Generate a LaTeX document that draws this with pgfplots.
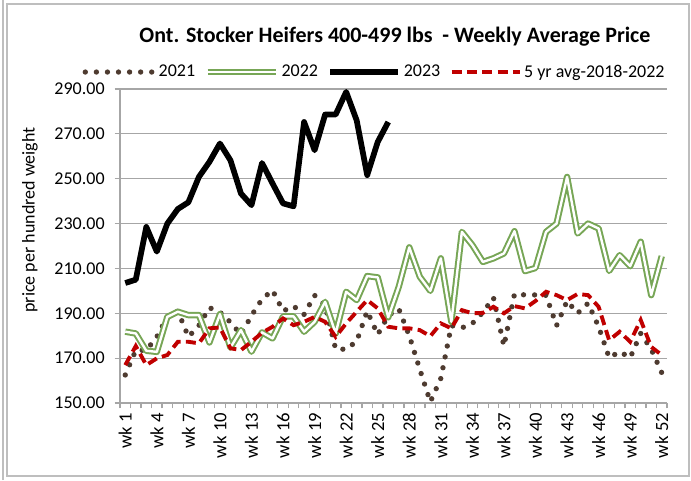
\documentclass[border=0pt]{standalone}
\usepackage{fontspec}
\setmainfont{Carlito}
\usepackage{pgfplots}
\pgfplotsset{compat=1.18}
\definecolor{c21}{RGB}{78,59,48}
\definecolor{c22}{RGB}{119,166,86}
\definecolor{c5y}{RGB}{192,0,0}
\definecolor{gridg}{RGB}{166,166,166}
\definecolor{frameg}{RGB}{190,190,190}
\begin{document}
\begin{tikzpicture}[x=1pt,y=1pt]
\begin{axis}[
  at={(0,0)}, anchor=south west,
  scale only axis, width=410.25pt, height=235.5pt,
  xmin=0.5, xmax=52.5, ymin=150, ymax=290,
  clip=false,
  axis x line=bottom, axis y line=left,
  axis line style={-, draw=gridg, line width=0.9pt},
  ytick={150,170,...,290},
  xtick={1,4,7,10,13,16,19,22,25,28,31,34,37,40,43,46,49,52},
  xticklabels={wk 1,wk 4,wk 7,wk 10,wk 13,wk 16,wk 19,wk 22,wk 25,wk 28,wk 31,wk 34,wk 37,wk 40,wk 43,wk 46,wk 49,wk 52},
  minor xtick={0.5,1.5,...,52.5},
  major x tick style={draw=none},
  tick align=outside,
  tick style={draw=gridg, line width=0.9pt},
  major tick length=4pt, minor tick length=4pt,
  ymajorgrids, major grid style={draw=gridg, line width=0.9pt},
  tick label style={font=\fontsize{13.5}{15}\selectfont},
  xticklabel style={rotate=90, anchor=east, font=\fontsize{14}{16}\selectfont},
  yticklabel style={xshift=-4pt, /pgf/number format/.cd, fixed, fixed zerofill, precision=2, 1000 sep={}, assume math mode=true},
  ylabel={price per hundred weight},
  ylabel style={at={(axis description cs:-0.1645,0.583)}, anchor=center, font=\fontsize{13.5}{15}\selectfont},
  legend columns=4,
  legend style={at={(axis description cs:0.466,1.054)}, anchor=center, draw=none, fill=none,
    font=\fontsize{13.5}{15}\selectfont,
    /tikz/every even column/.append style={column sep=5pt}},
  legend image code/.code={\draw[#1] (0pt,0pt) -- (51pt,0pt);},
]
% 2021
\addplot[c21, line width=4pt, line cap=round, dash pattern=on 0pt off 8.3pt] coordinates {
(1,162.5)(2,173.5)(3,173.5)(4,179.5)(5,188.5)(6,191)(7,179.5)(8,184.5)(9,192.5)(10,190.5)
(11,186)(12,180.5)(13,189)(14,196.3)(15,200.3)(16,191)(17,193.2)(18,189.5)(19,198)(20,193.5)
(21,174)(22,174)(23,177.5)(24,191)(25,180.5)(26,189)(27,192)(28,180)(29,165)(30,150.5)
(31,161)(32,184.5)(33,183.5)(34,185.5)(35,190.4)(36,197)(37,175.4)(38,198.6)(39,198.2)(40,198.2)
(41,198)(42,184.5)(43,195.5)(44,190)(45,194.5)(46,184)(47,170.2)(48,172.9)(49,170.2)(50,181)
(51,174)(52,163.5)};
\addlegendentry{2021}
% 2022
\addplot[c22, line width=1.5pt, double=white, double distance=1.8pt, line join=round] coordinates {
(1,181.8)(2,181)(3,173.3)(4,172.8)(5,188.4)(6,190.7)(7,189.2)(8,189.2)(9,177)(10,189.6)
(11,174.7)(12,182.5)(13,172.9)(14,181.5)(15,178.8)(16,188.6)(17,188.6)(18,181.8)(19,186.2)(20,195.1)
(21,181)(22,199.6)(23,195.9)(24,206.6)(25,206)(26,188.2)(27,201.8)(28,219.4)(29,206.3)(30,200)
(31,214.5)(32,186.2)(33,226.3)(34,220.4)(35,212.9)(36,214.5)(37,216.7)(38,226.6)(39,208.8)(40,210.2)
(41,226.3)(42,230)(43,250.8)(44,225.6)(45,230)(46,227.8)(47,208.9)(48,215.9)(49,211)(50,221.9)
(51,198.1)(52,215.5)};
\addlegendentry{2022}
% 2023
\addplot[black, line width=4.3pt, line join=round] coordinates {
(1,203.5)(2,205)(3,228.5)(4,217.5)(5,230)(6,236.5)(7,239.5)(8,250.8)(9,257.5)(10,265.7)
(11,258.2)(12,243.4)(13,238.2)(14,257)(15,247.9)(16,239)(17,237.7)(18,275.3)(19,262.7)(20,278.6)
(21,278.6)(22,288.7)(23,276)(24,251.6)(25,266.4)(26,275.3)};
\addlegendentry{2023}
% 5 yr avg
\addplot[c5y, line width=2.9pt, dash pattern=on 7.5pt off 4pt] coordinates {
(1,166.9)(2,175.4)(3,166.9)(4,169.9)(5,171.4)(6,177.3)(7,177.3)(8,176.6)(9,183.3)(10,183.7)
(11,174.4)(12,173.6)(13,177.3)(14,181.3)(15,184)(16,187.7)(17,184.7)(18,186.2)(19,188.4)(20,186.2)
(21,179.5)(22,185.5)(23,190.7)(24,195.9)(25,192.2)(26,184)(27,183.3)(28,183.3)(29,182.5)(30,179.8)
(31,185.5)(32,183.3)(33,191.4)(34,190)(35,190.2)(36,192.9)(37,190)(38,193.2)(39,192.2)(40,195.5)
(41,199.6)(42,198.1)(43,195.9)(44,198.6)(45,198.1)(46,192.9)(47,178)(48,181.8)(49,177.3)(50,187)
(51,175)(52,171.4)};
\addlegendentry{5 yr avg-2018-2022}
\end{axis}
\node[anchor=base, font=\bfseries\fontsize{16.5}{19}\selectfont] at (206.25,270.75) {Ont. Stocker Heifers 400-499 lbs\ \ - Weekly Average Price};
\draw[frameg, line width=0.8pt] (-84.75,-54.75) rectangle (426.75,299.25);
\draw[frameg, line width=0.8pt] (-87.75,-57.75) -- (-87.75,302.25);
\pgfresetboundingbox
\useasboundingbox (-90,-57.75) rectangle (428.25,302.25);
\end{tikzpicture}
\end{document}
